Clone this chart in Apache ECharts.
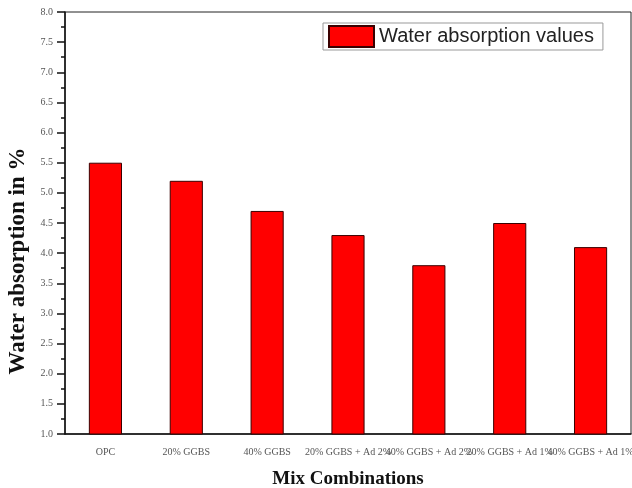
<!DOCTYPE html>
<html>
<head>
<meta charset="utf-8">
<script src="https://cdn.jsdelivr.net/npm/echarts@6/dist/echarts.min.js"></script>
<style>html,body{margin:0;padding:0;background:#fff;}#c{width:632px;height:488px;}</style>
</head>
<body>
<div id="c"></div>
<script>
var categories = ['OPC', '20% GGBS', '40% GGBS', '20% GGBS + Ad 2%', '40% GGBS + Ad 2%', '20% GGBS + Ad 1%', '40% GGBS + Ad 1%'];
var waterAbsorption = [5.5, 5.2, 4.7, 4.3, 3.8, 4.5, 4.1];
var seriesName = 'Water absorption values';

var chart = echarts.init(document.getElementById('c'), null, {renderer: 'canvas'});
var serif = '"Liberation Serif", "DejaVu Serif", serif';
chart.setOption({
  animation: false,
  backgroundColor: '#fff',
  grid: {left: 65, right: 1, top: 12, bottom: 54, show: true, borderColor: '#222', borderWidth: 1, containLabel: false, outerBoundsMode: 'none'},
  legend: {
    left: 323, top: 23,
    data: [{name: seriesName, icon: 'rect'}],
    itemWidth: 45, itemHeight: 21,
    borderColor: '#999', borderWidth: 1, padding: [2, 9, 2, 5],
    itemGap: 6,
    textStyle: {fontFamily: '"Liberation Sans", Arial, sans-serif', fontSize: 20, color: '#222'}
  },
  xAxis: [{
    type: 'category',
    data: categories,
    name: 'Mix Combinations',
    nameLocation: 'middle',
    nameGap: 36,
    nameTextStyle: {fontFamily: serif, fontWeight: 'bold', fontSize: 19, color: '#111'},
    axisLine: {lineStyle: {color: '#111', width: 1.5}},
    axisTick: {alignWithLabel: true, length: 8, lineStyle: {color: '#111', width: 1.5}},
    axisLabel: {interval: 0, fontFamily: serif, fontSize: 10, color: '#555', margin: 13, hideOverlap: false},
    splitLine: {show: false}
  }, {
    type: 'category',
    data: categories,
    position: 'bottom',
    axisLine: {show: false},
    axisTick: {length: 4, lineStyle: {color: '#111', width: 1.5}},
    axisLabel: {show: false},
    splitLine: {show: false}
  }],
  yAxis: {
    type: 'value',
    min: 1.0, max: 8.0, interval: 0.5,
    name: 'Water absorption in %',
    nameLocation: 'middle',
    nameGap: 30,
    nameTextStyle: {fontFamily: serif, fontWeight: 'bold', fontSize: 23, color: '#111', padding: [0, 76, 0, 0]},
    axisLine: {show: true, lineStyle: {color: '#111', width: 1.5}},
    axisTick: {show: true, length: 8, lineStyle: {color: '#111', width: 1.5}},
    minorTick: {show: true, splitNumber: 2, length: 4, lineStyle: {color: '#111', width: 1.5}},
    axisLabel: {fontFamily: serif, fontSize: 10, color: '#555', margin: 12, formatter: function (v) { return v.toFixed(1); }},
    splitLine: {show: false}
  },
  series: [{
    name: seriesName,
    type: 'bar',
    data: waterAbsorption,
    barWidth: '41%',
    itemStyle: {color: '#ff0000', borderColor: '#3a0000', borderWidth: 1}
  }]
});
</script>
</body>
</html>
